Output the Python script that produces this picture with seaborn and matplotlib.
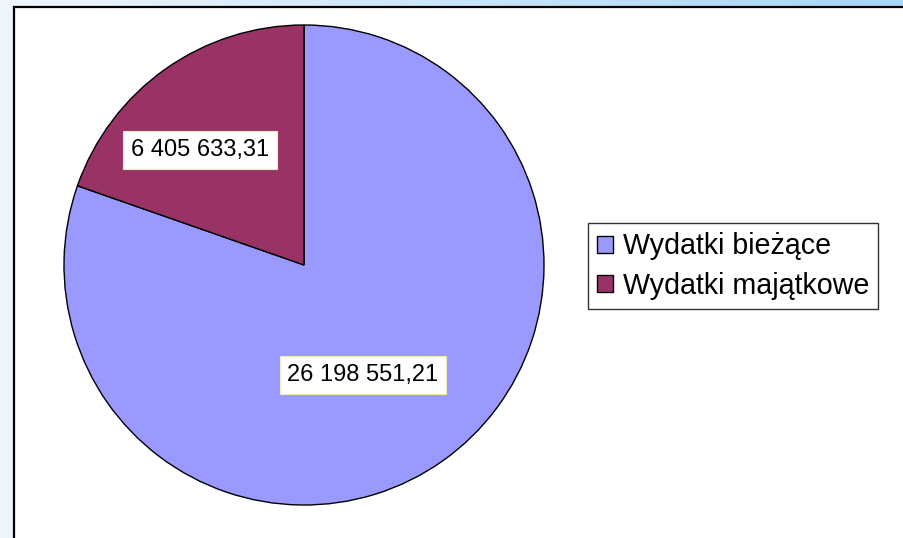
import numpy as np
import matplotlib
matplotlib.use("Agg")
import matplotlib.pyplot as plt
from matplotlib.patches import Rectangle
import matplotlib.colors as mcolors
import seaborn as sns

# data
categories = ["Wydatki bieżące", "Wydatki majątkowe"]
values = [26198551.21, 6405633.31]
value_labels = ["26 198 551,21", "6 405 633,31"]
colors = ["#9999FF", "#993366"]

sns.set_theme(style="white")
plt.rcParams['font.family'] = ['Liberation Sans', 'DejaVu Sans']
plt.rcParams['text.color'] = 'black'

W, H = 904, 538
fig = plt.figure(figsize=(W / 100, H / 100), dpi=100)

# background gradient
bg = fig.add_axes([0, 0, 1, 1], zorder=0)
c0 = np.array(mcolors.to_rgb("#eef5fd"))
c1 = np.array(mcolors.to_rgb("#a6d6f8"))
t = np.linspace(0, 1, 256)
grad = (c0[None, :] * (1 - t[:, None]) + c1[None, :] * t[:, None])[None, :, :]
bg.imshow(grad, aspect="auto", extent=[0, W, 0, H])
bg.set_axis_off()

ax = fig.add_axes([0, 0, 1, 1], zorder=1)
ax.patch.set_alpha(0)

# chart frame (extends past the image edge)
ax.add_patch(Rectangle((14, -20), W + 20, H - 7 + 20, facecolor="white",
                       edgecolor="black", linewidth=1.6, zorder=1))

cx, cy, r = 304, H - 265, 240
wedges, _ = ax.pie(values, colors=colors, startangle=90, counterclock=False,
                   center=(cx, cy), radius=r,
                   wedgeprops=dict(edgecolor="black", linewidth=1.0, zorder=2))
for w in wedges:
    w.set_zorder(2)

label_pos = [(363, H - 375), (200, H - 150)]
for (x, y), txt in zip(label_pos, value_labels):
    ax.text(x, y, txt, ha="center", va="center", fontsize=17, color="black",
            zorder=3,
            bbox=dict(boxstyle="square,pad=0.32", facecolor="white",
                      edgecolor="#efe8c0", linewidth=0.8))

leg = ax.legend(wedges, categories, loc="center left",
                bbox_to_anchor=(588 / W, 1 - 266 / H), fontsize=20.6,
                frameon=True, fancybox=False, edgecolor="black",
                handlelength=0.55, handleheight=0.55, handletextpad=0.35,
                borderpad=0.32, labelspacing=0.4, borderaxespad=0,
                labelcolor="black")
leg.get_frame().set_linewidth(1.0)
leg.set_zorder(4)

ax.set_xlim(0, W)
ax.set_ylim(0, H)
ax.set_aspect("equal")
ax.set_axis_off()

fig.savefig("out.png", dpi=100)
